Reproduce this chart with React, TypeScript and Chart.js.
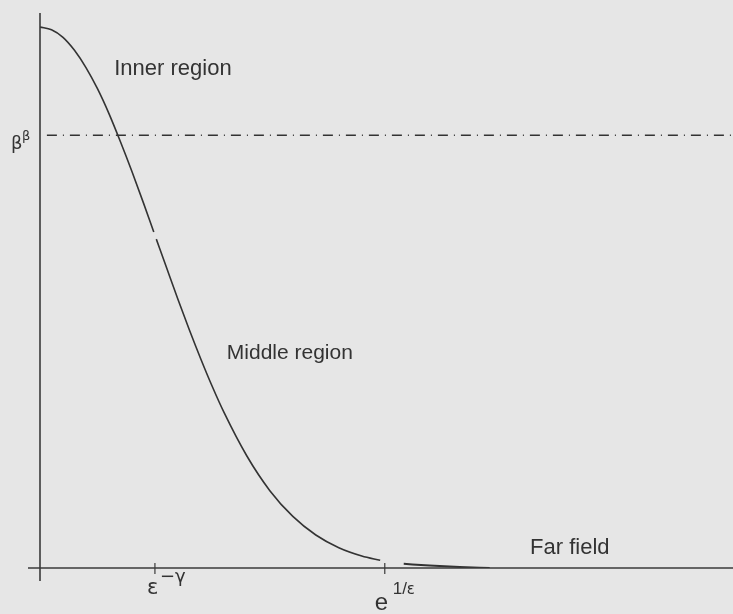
import React, { useEffect, useRef } from "react";
import { Chart, registerables } from "chart.js";

Chart.register(...registerables);

// Curve samples (x in units of ε^-γ, y relative to the peak)
const innerX = [0, 0.1, 0.2, 0.3, 0.4, 0.5, 0.6, 0.7, 0.8, 0.9, 0.99];
const innerY = [1.0, 0.995, 0.981, 0.957, 0.925, 0.886, 0.84, 0.788, 0.733, 0.675, 0.621];
const middleX = [1.012, 1.1, 1.2, 1.3, 1.4, 1.5, 1.6, 1.8, 2.0, 2.2, 2.4, 2.6, 2.8, 2.96];
const middleY = [0.608, 0.556, 0.497, 0.44, 0.386, 0.335, 0.288, 0.207, 0.143, 0.0953, 0.061, 0.0375, 0.0222, 0.0142];
const farX = [3.165, 3.39, 3.652, 3.913];
const farY = [0.0077, 0.0045, 0.0018, 0.0];
const betaLevel = 0.8;
const xTicks = [1, 3];
const xMax = 6.03;
const yMax = 1.026;
const regionLabels = ["Inner region", "Middle region", "Far field"];
const regionLabelX = [1.157, 2.174, 4.61];
const regionLabelY = [0.922, 0.398, 0.037];
const regionLabelSize = [22, 21, 22];

const ink = "#333333";

const pts = (xs: number[], ys: number[]) => xs.map((x, i) => ({ x, y: ys[i] }));

const annotatePlugin = {
  id: "annotate",
  afterDraw(chart: any) {
    const ctx = chart.ctx as CanvasRenderingContext2D;
    const xs = chart.scales.x;
    const ys = chart.scales.y;
    const x0 = xs.getPixelForValue(0);
    const y0 = ys.getPixelForValue(0);
    const yTop = ys.getPixelForValue(yMax);
    const xRight = xs.getPixelForValue(xMax);
    ctx.save();
    ctx.strokeStyle = "#3a3a3a";
    ctx.lineWidth = 1.6;
    // y axis
    ctx.beginPath();
    ctx.moveTo(x0, yTop);
    ctx.lineTo(x0, y0 + 13);
    ctx.stroke();
    // x axis
    ctx.beginPath();
    ctx.moveTo(x0 - 12, y0);
    ctx.lineTo(xRight, y0);
    ctx.stroke();
    // ticks
    ctx.lineWidth = 1.2;
    xTicks.forEach((t) => {
      const px = xs.getPixelForValue(t);
      ctx.beginPath();
      ctx.moveTo(px, y0 - 5);
      ctx.lineTo(px, y0 + 6);
      ctx.stroke();
    });

    ctx.fillStyle = ink;
    ctx.textBaseline = "middle";
    ctx.textAlign = "center";
    regionLabels.forEach((lab, i) => {
      ctx.font = `${regionLabelSize[i]}px "Liberation Sans", Arial, sans-serif`;
      ctx.fillText(lab, xs.getPixelForValue(regionLabelX[i]), ys.getPixelForValue(regionLabelY[i]));
    });

    // β^β label
    const by = ys.getPixelForValue(betaLevel);
    ctx.textAlign = "left";
    ctx.font = '18px "DejaVu Sans", sans-serif';
    ctx.fillText("β", 11, by + 9);
    ctx.font = '13px "DejaVu Sans", sans-serif';
    ctx.fillText("β", 22, by + 1);

    // ε^-γ label
    const t1 = xs.getPixelForValue(xTicks[0]);
    ctx.font = '21px "DejaVu Sans", sans-serif';
    ctx.fillText("ε", t1 - 8, y0 + 21);
    ctx.font = '18px "DejaVu Sans", sans-serif';
    ctx.fillText("−γ", t1 + 5, y0 + 9);

    // e^{1/ε} label
    const t2 = xs.getPixelForValue(xTicks[1]);
    ctx.font = '24px "Liberation Sans", Arial, sans-serif';
    ctx.fillText("e", t2 - 10, y0 + 35);
    ctx.font = '17px "Liberation Sans", Arial, sans-serif';
    ctx.fillText("1/", t2 + 8, y0 + 21);
    ctx.font = '15px "DejaVu Sans", sans-serif';
    ctx.fillText("ε", t2 + 22, y0 + 22);
    ctx.restore();
  },
};

export default function App() {
  const ref = useRef<HTMLCanvasElement | null>(null);
  useEffect(() => {
    if (!ref.current) return;
    const line = {
      borderColor: ink,
      borderWidth: 1.6,
      pointRadius: 0,
      cubicInterpolationMode: "monotone" as const,
      fill: false,
    };
    const chart = new Chart(ref.current, {
      type: "line",
      data: {
        datasets: [
          { ...line, data: pts(innerX, innerY) },
          { ...line, data: pts(middleX, middleY) },
          { ...line, borderWidth: 2, data: pts(farX, farY) },
          {
            ...line,
            borderWidth: 1.5,
            borderDash: [10, 6, 1, 6],
            data: [
              { x: 0.06, y: betaLevel },
              { x: xMax, y: betaLevel },
            ],
          },
        ],
      },
      options: {
        animation: false,
        responsive: false,
        layout: { padding: { left: 40, top: 13, right: 0, bottom: 46 } },
        plugins: { legend: { display: false }, tooltip: { enabled: false } },
        scales: {
          x: { type: "linear", min: 0, max: xMax, display: false },
          y: { type: "linear", min: 0, max: yMax, display: false },
        },
      },
      plugins: [annotatePlugin],
    });
    return () => chart.destroy();
  }, []);
  return (
    <div style={{ position: "fixed", left: 0, top: 0, width: 733, height: 614, background: "#e6e6e6" }}>
      <canvas ref={ref} width={733} height={614} style={{ display: "block" }} />
    </div>
  );
}
